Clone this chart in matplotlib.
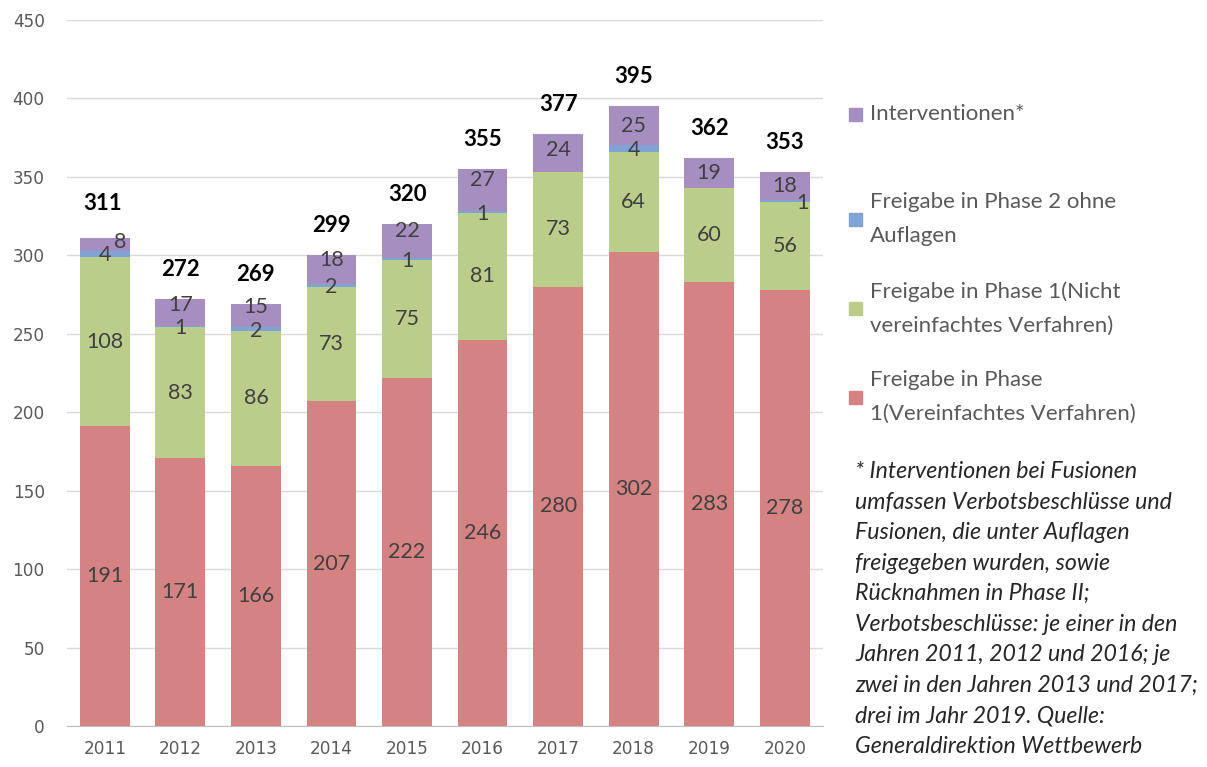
import matplotlib.pyplot as plt
import numpy as np
from matplotlib.patches import Rectangle

plt.rcParams['font.family'] = ['Lato', 'DejaVu Sans']

# Daten
jahre = ['2011', '2012', '2013', '2014', '2015', '2016', '2017', '2018', '2019', '2020']
phase1_vereinfacht = [191, 171, 166, 207, 222, 246, 280, 302, 283, 278]
phase1_nicht = [108, 83, 86, 73, 75, 81, 73, 64, 60, 56]
phase2_ohne = [4, 1, 2, 2, 1, 1, 0, 4, 0, 1]
interventionen = [8, 17, 15, 18, 22, 27, 24, 25, 19, 18]
gesamt = [311, 272, 269, 299, 320, 355, 377, 395, 362, 353]

serien = [phase1_vereinfacht, phase1_nicht, phase2_ohne, interventionen]
farben = ['#d48282', '#bbcd8b', '#7fa3d2', '#a78ec0']
namen = ['Freigabe in Phase\n1(Vereinfachtes Verfahren)',
         'Freigabe in Phase 1(Nicht\nvereinfachtes Verfahren)',
         'Freigabe in Phase 2 ohne\nAuflagen',
         'Interventionen*']

# verschobene Beschriftungen wie im Original (Serie, Jahr) -> (dx, dy)
verschiebung = {(3, 0): (0.21, 1.7), (3, 1): (0, 4.5), (3, 2): (0, 5.8),
                (3, 3): (0, 6), (3, 4): (0, 6.5), (3, 5): (0, 6.5),
                (3, 6): (0, 2), (2, 9): (0.24, -1)}

fig = plt.figure(figsize=(12.07, 7.67), dpi=100)
ax = fig.add_axes([0.0555, 0.0535, 0.626, 0.9205])

x = np.arange(len(jahre))
unten = np.zeros(len(jahre))
for s, werte in enumerate(serien):
    werte = np.array(werte)
    ax.bar(x, werte, width=0.66, bottom=unten, color=farben[s], zorder=2)
    for i, v in enumerate(werte):
        if v == 0:
            continue
        dx, dy = verschiebung.get((s, i), (0, -1 if s == 2 else 0))
        ax.text(x[i] + dx, unten[i] + v / 2 + dy, str(v),
                ha='center', va='center', fontsize=15.5, color='#404040', zorder=3)
    unten += werte

# Summen
for i, t in enumerate(gesamt):
    off = 22 if i == 0 else 19
    ax.text(x[i] - (0.03 if i == 0 else 0), unten[i] + off, str(t), ha='center', va='center',
            fontsize=16, fontweight='bold', color='black')

ax.set_xlim(-0.5, len(jahre) - 0.5)
ax.set_ylim(0, 450)
ax.set_yticks(range(0, 451, 50))
ax.set_xticks(x)
ax.set_xticklabels(jahre)
ax.tick_params(axis='both', length=0, colors='#595959', labelsize=12.2)
for lab in ax.get_xticklabels() + ax.get_yticklabels():
    lab.set_family('DejaVu Sans')
ax.tick_params(axis='y', pad=16)
ax.tick_params(axis='x', pad=10)
ax.yaxis.grid(True, color='#d9d9d9', linewidth=1, zorder=0)
ax.set_axisbelow(True)
for sp in ['left', 'right', 'top']:
    ax.spines[sp].set_visible(False)
ax.spines['bottom'].set_color('#bfbfbf')

# Legende
W, H = 1207, 767
leg_y = [114, 219, 308.5, 397]
for k, y in enumerate(leg_y):
    s = 3 - k
    fig.add_artist(Rectangle((849 / W, 1 - (y + 6.5) / H), 13 / W, 13 / H,
                             color=farben[s], transform=fig.transFigure))
    fig.text(870 / W, 1 - y / H, namen[s], ha='left', va='center', fontsize=16,
             color='#595959', linespacing=1.85)

fussnote = ('* Interventionen bei Fusionen\n'
            'umfassen Verbotsbeschlüsse und\n'
            'Fusionen, die unter Auflagen\n'
            'freigegeben wurden, sowie\n'
            'Rücknahmen in Phase II;\n'
            'Verbotsbeschlüsse: je einer in den\n'
            'Jahren 2011, 2012 und 2016; je\n'
            'zwei in den Jahren 2013 und 2017;\n'
            'drei im Jahr 2019. Quelle:\n'
            'Generaldirektion Wettbewerb')
fig.text(855 / W, 1 - 461 / H, fussnote, ha='left', va='top', fontsize=16.7,
         style='italic', color='#262626', linespacing=1.56)

fig.savefig('out.png', dpi=100)
